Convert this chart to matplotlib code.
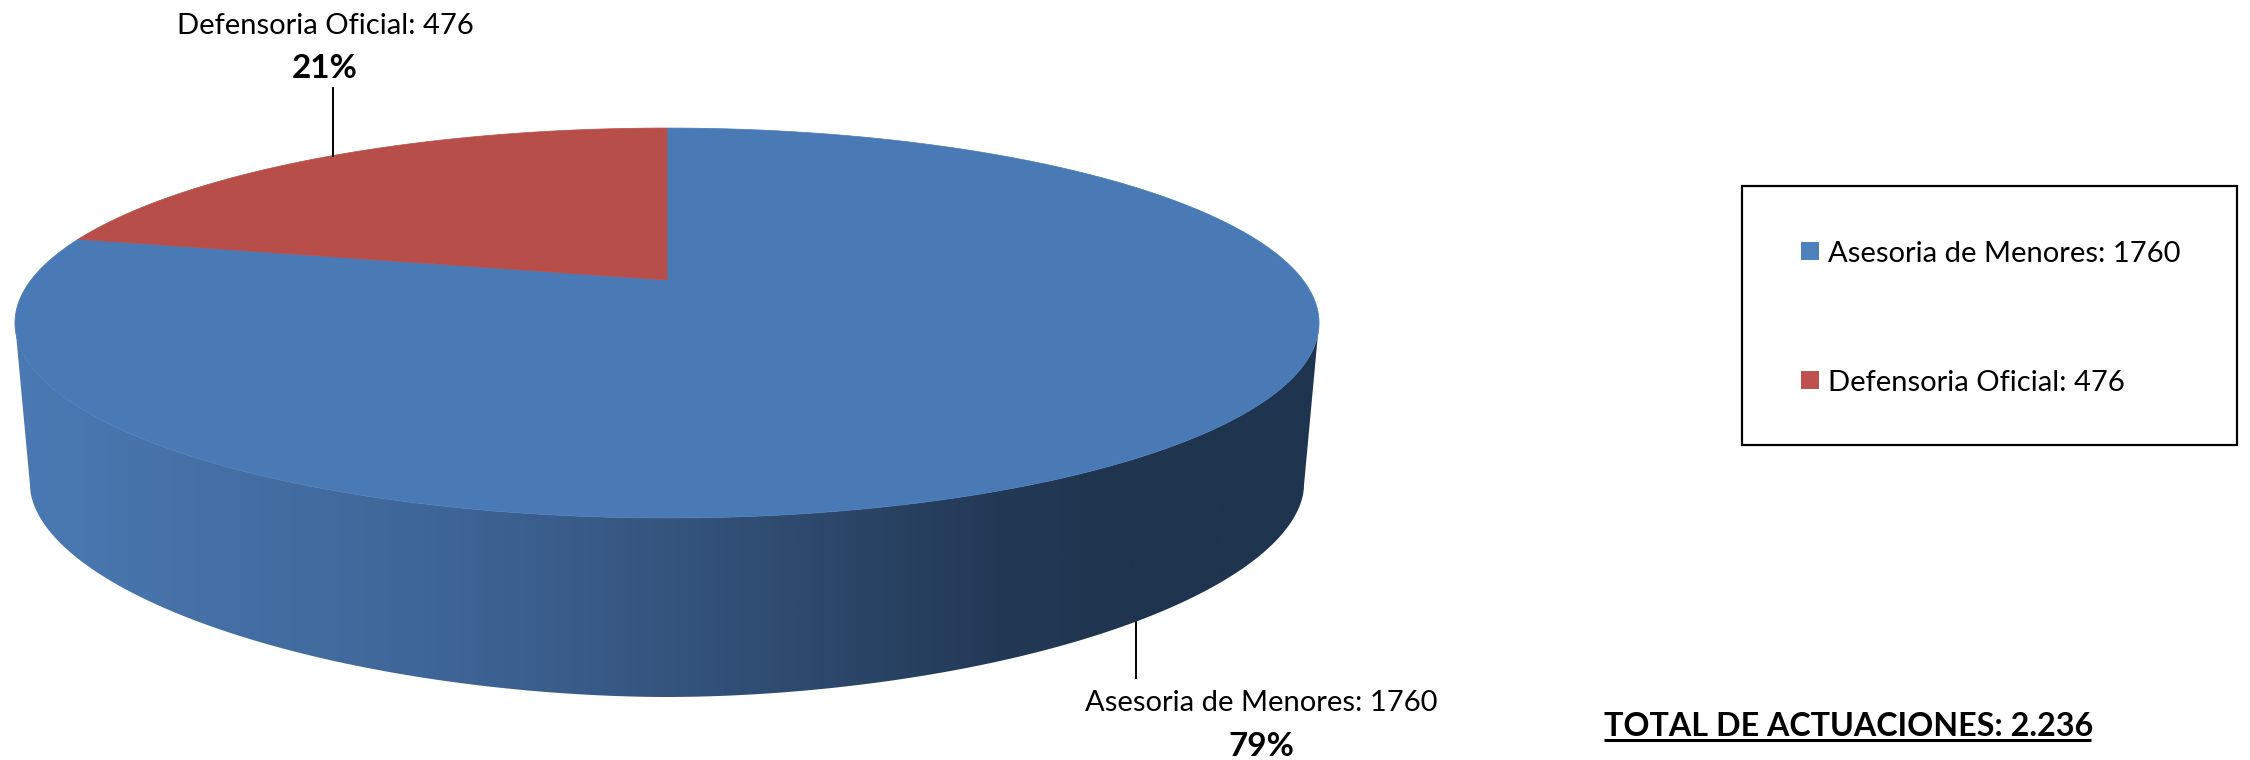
# -*- coding: utf-8 -*-
import numpy as np
import matplotlib
matplotlib.use('Agg')
import matplotlib.pyplot as plt
from matplotlib.colors import LinearSegmentedColormap
from matplotlib.patches import Polygon, Rectangle

plt.rcParams['font.family'] = ['Lato', 'DejaVu Sans']

# data
categories = ['Asesoria de Menores', 'Defensoria Oficial']
values = [1760, 476]
percent_labels = ['79%', '21%']
total_label = 'TOTAL DE ACTUACIONES: 2.236'

top_colors = ['#4a7ab5', '#b84e4a']
legend_colors = ['#4f81bd', '#c0504d']

# pie geometry, in image pixels
cx = 667
apex_y = 280
k = 0.2206   # perspective of the disc
a = 636
b = 185.5


def project(theta):
    # theta in degrees clockwise from the back of the pie
    u = np.sin(np.radians(theta))
    v = np.cos(np.radians(theta))
    d = 1 + k * v
    return cx + a * u / d, apex_y - b * v / d


def ellipse(yc, rx, ry, t, p=2.0):
    # p below 2 gives the slightly squarer curve of the base
    c = np.cos(t)
    s = np.sin(t)
    return cx + rx * np.sign(c) * np.abs(c) ** (2 / p), yc + ry * np.abs(s) ** (2 / p)


fig = plt.figure(figsize=(22.5, 7.6), dpi=100, facecolor='white')
ax = fig.add_axes([0, 0, 1, 1])

# side wall with horizontal gradient
t = np.linspace(np.pi, 0, 400)
xt, yt = ellipse(323, 652, 195, t)
xb, yb = ellipse(485, 637, 212, t[::-1], p=1.88)
wall = Polygon(np.column_stack([np.r_[xt, xb], np.r_[yt, yb]]), closed=True,
               facecolor='none', edgecolor='none')
ax.add_patch(wall)
wall_cmap = LinearSegmentedColormap.from_list('wall', [
    (0.00, '#4a79b3'), (0.12, '#4672a8'), (0.30, '#40679a'), (0.45, '#385a86'),
    (0.60, '#2e4a6e'), (0.75, '#233a57'), (0.85, '#1f344e'), (1.00, '#1f344e')])
grad = ax.imshow(np.linspace(0, 1, 512).reshape(1, -1), cmap=wall_cmap, aspect='auto',
                 extent=[15, 1320, 720, 300], zorder=1)
grad.set_clip_path(wall)

# top of the pie, wedges start at the back and run clockwise
shares = np.array(values) / sum(values) * 360
start = 0
for share, col in zip(shares, top_colors):
    th = np.linspace(start, start + share, 300)
    x, y = project(th)
    ax.add_patch(Polygon(np.column_stack([np.r_[cx, x], np.r_[apex_y, y]]), closed=True,
                         facecolor=col, edgecolor=col, linewidth=0.5, zorder=2))
    start += share

# leader lines
ax.plot([333, 333], [88, 156], color='black', lw=1.4, zorder=3)
ax.plot([1136, 1136], [622, 678], color='black', lw=1.4, zorder=0.5)

# data labels
ax.text(325, 26, f'{categories[1]}: {values[1]}', fontsize=21, ha='center', va='center')
ax.text(325, 69, percent_labels[1], fontsize=24, fontweight='bold', ha='center', va='center')
ax.text(1261, 703, f'{categories[0]}: {values[0]}', fontsize=21, ha='center', va='center')
ax.text(1261, 746, percent_labels[0], fontsize=24, fontweight='bold', ha='center', va='center')

# legend box
ax.add_patch(Rectangle((1742, 186), 495, 259, facecolor='white', edgecolor='black', lw=1.6, zorder=2))
for name, val, col, y in zip(categories, values, legend_colors, [251, 380]):
    ax.add_patch(Rectangle((1801, y - 9), 18, 18, facecolor=col, edgecolor='none', zorder=3))
    ax.text(1828, y + 3, f'{name}: {val}', fontsize=21, ha='left', va='center', zorder=3)

# total
ax.text(1604, 727, total_label, fontsize=23.2, fontweight='bold', ha='left', va='center')
ax.plot([1604, 2091], [740, 740], color='black', lw=2.2, solid_capstyle='butt')

ax.set_xlim(0, 2250)
ax.set_ylim(760, 0)
ax.axis('off')

fig.savefig('out.png', dpi=100)
